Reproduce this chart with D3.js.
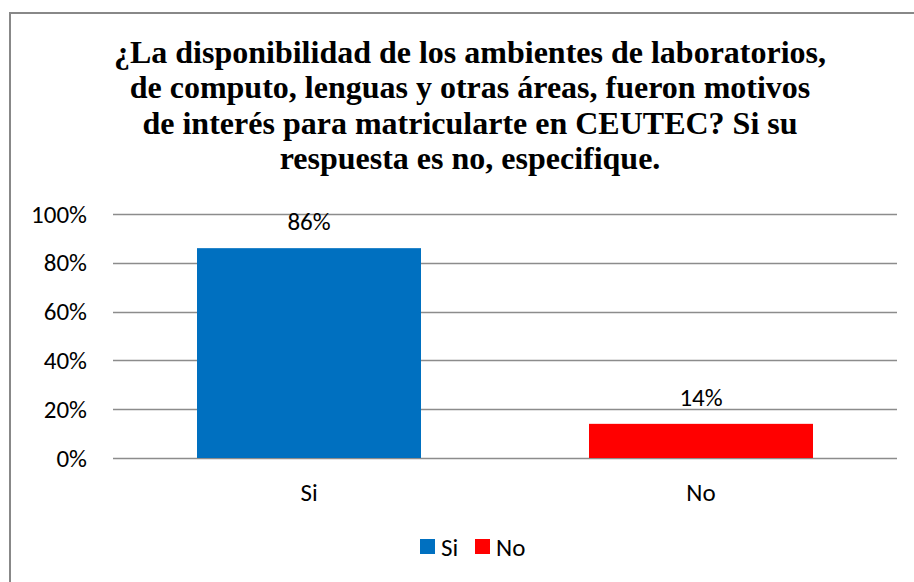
<!DOCTYPE html>
<html><head><meta charset="utf-8">
<script src="https://cdn.jsdelivr.net/npm/d3@7"></script>
<style>body{margin:0;background:#fff;} svg{display:block;}</style>
</head><body>
<svg id="c" width="914" height="582"></svg>
<script>
const categories = ["Si", "No"];
const values = [0.86, 0.14];
const labels = ["86%", "14%"];
const colors = ["#0070C0", "#FF0000"];
const yTicks = [0, 0.2, 0.4, 0.6, 0.8, 1.0];
const titleLines = [
  "¿La disponibilidad de los ambientes de laboratorios,",
  "de computo, lenguas y otras áreas, fueron motivos",
  "de interés para matricularte en CEUTEC? Si su",
  "respuesta es no, especifique."
];

const svg = d3.select("#c");
const SERIF = "'Liberation Serif'";
const SANS = "'Carlito'";
const FS = 25;

// chart border
svg.append("path").attr("d", "M10,582 L10,13 L914,13")
  .attr("fill", "none").attr("stroke", "#888").attr("stroke-width", 2);

// title
titleLines.forEach((t, i) => {
  svg.append("text").attr("x", 470).attr("y", 63 + i * 35.3)
    .attr("text-anchor", "middle")
    .style("font-family", SERIF).style("font-weight", "bold").style("font-size", "32px")
    .attr("fill", "#000").text(t);
});

const x0 = 113, x1 = 897, yTop = 214, yBot = 458;
const x = d3.scaleBand().domain(categories).range([x0, x1])
  .paddingInner(168 / 392).paddingOuter(84 / 392);
const y = d3.scaleLinear().domain([0, 1]).range([yBot, yTop]);

// gridlines
svg.append("g").selectAll("line").data(yTicks).join("line")
  .attr("x1", x0).attr("x2", x1)
  .attr("y1", d => Math.round(y(d)) + 0.5).attr("y2", d => Math.round(y(d)) + 0.5)
  .attr("stroke", "#8c8c8c").attr("stroke-width", 1.5);

// y axis labels
const yAxis = d3.axisLeft(y).tickValues(yTicks).tickFormat(d3.format(".0%")).tickSize(0).tickPadding(0);
const ga = svg.append("g").attr("transform", "translate(87,0)").call(yAxis);
ga.select(".domain").remove();
ga.selectAll("text").attr("dy", null).attr("y", 8)
  .style("font-family", SANS).style("font-size", FS + "px").attr("fill", "#000");

// bars
svg.append("g").selectAll("rect").data(categories).join("rect")
  .attr("x", d => x(d)).attr("width", x.bandwidth())
  .attr("y", (d, i) => y(values[i])).attr("height", (d, i) => yBot - y(values[i]))
  .attr("fill", (d, i) => colors[i]);

// data labels
svg.append("g").selectAll("text").data(categories).join("text")
  .attr("x", d => x(d) + x.bandwidth() / 2)
  .attr("y", (d, i) => y(values[i]) - 18)
  .attr("text-anchor", "middle")
  .style("font-family", SANS).style("font-size", FS + "px")
  .attr("fill", "#000").text((d, i) => labels[i]);

// category axis
const xAxis = d3.axisBottom(x).tickSize(0).tickPadding(0);
const gx = svg.append("g").attr("transform", "translate(0,501)").call(xAxis);
gx.select(".domain").remove();
gx.selectAll("text").attr("dy", null).attr("y", 0)
  .style("font-family", SANS).style("font-size", FS + "px").attr("fill", "#000");

// legend
const legendX = [420, 475];
const lg = svg.append("g");
categories.forEach((c, i) => {
  lg.append("rect").attr("x", legendX[i]).attr("y", 539).attr("width", 15).attr("height", 15).attr("fill", colors[i]);
  lg.append("text").attr("x", legendX[i] + 21).attr("y", 556)
    .style("font-family", SANS).style("font-size", FS + "px").attr("fill", "#000").text(c);
});
</script>
</body></html>
